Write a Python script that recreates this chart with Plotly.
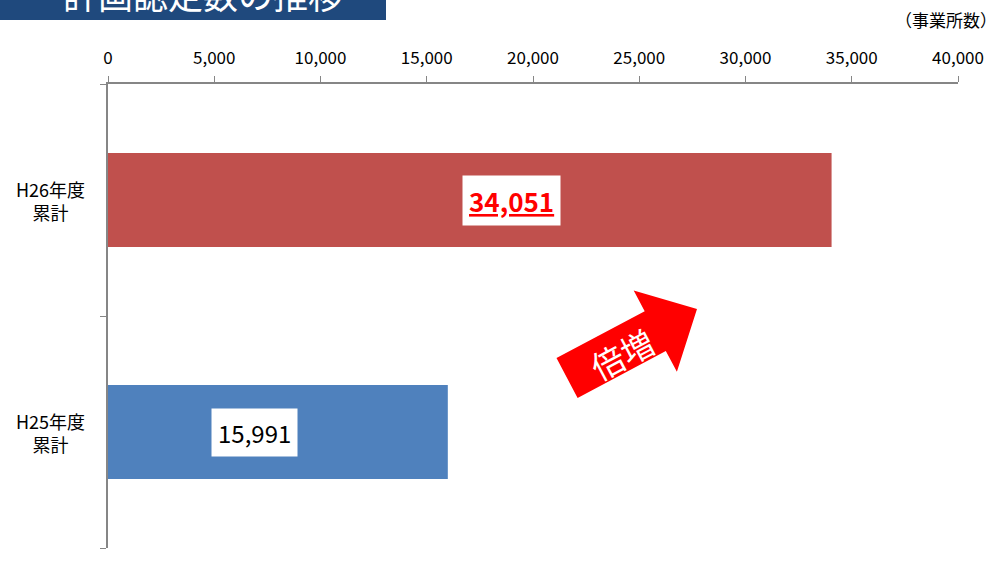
import plotly.graph_objects as go

categories = ["H25年度<br>累計", "H26年度<br>累計"]
values = [15991, 34051]
bar_colors = ["#4F81BD", "#C0504D"]
x_ticks = [0, 5000, 10000, 15000, 20000, 25000, 30000, 35000, 40000]
title_text = "計画認定数の推移"
unit_text = "（事業所数）"
arrow_text = "倍増"

FONT = "Noto Sans CJK JP"
W, H = 1001, 578
L, R, T, B = 108, 43, 84, 30
PW, PH = W - L - R, H - T - B

def px(x):
    return (x - L) / PW

def py(y):
    return (H - B - y) / PH

fig = go.Figure()
fig.add_trace(go.Bar(
    y=categories, x=values, orientation="h",
    marker=dict(color=bar_colors, line=dict(width=0)),
    hoverinfo="skip", showlegend=False,
))

axis_gray = "#868686"
fig.update_layout(
    width=W, height=H,
    margin=dict(l=L, r=R, t=T, b=B),
    paper_bgcolor="white", plot_bgcolor="white",
    bargap=0.595,
    font=dict(family=FONT, size=17, color="black"),
    xaxis=dict(
        side="top", range=[0, 40000], tickvals=x_ticks,
        ticktext=[f"{v:,}" for v in x_ticks],
        ticks="outside", ticklen=6, tickcolor=axis_gray,
        showline=True, linecolor=axis_gray, linewidth=2,
        showgrid=False, zeroline=False,
        tickfont=dict(family=FONT, size=17, color="black"),
        ticklabelstandoff=5,
    ),
    yaxis=dict(
        categoryorder="array", categoryarray=categories,
        showticklabels=False, ticks="outside", ticklen=6,
        tickcolor=axis_gray, tickson="boundaries",
        showline=True, linecolor=axis_gray, linewidth=2,
        showgrid=False, zeroline=False,
    ),
)

anns = []
# category labels, centered
for c in categories:
    anns.append(dict(x=px(50), xref="paper", y=c, yref="y", text=c,
                     showarrow=False, xanchor="center", yanchor="middle",
                     align="center", font=dict(family=FONT, size=18, color="black")))

# value labels
anns.append(dict(x=19000, y=categories[1], xref="x", yref="y",
                 text=f"<b><u>{values[1]:,}</u></b>", showarrow=False,
                 bgcolor="white", borderpad=6,
                 font=dict(family=FONT, size=26, color="#FF0000")))
anns.append(dict(x=6900, y=categories[0], xref="x", yref="y",
                 text=f"{values[0]:,}", showarrow=False,
                 bgcolor="white", borderpad=6,
                 font=dict(family=FONT, size=24, color="black")))

# unit label
anns.append(dict(x=px(999), y=py(20), xref="paper", yref="paper",
                 text=unit_text, showarrow=False, xanchor="right", yanchor="middle",
                 font=dict(family=FONT, size=17, color="black")))

# title (cut off at top)
anns.append(dict(x=px(203), y=py(-7), xref="paper", yref="paper",
                 text=title_text, showarrow=False,
                 xanchor="center", yanchor="middle",
                 font=dict(family=FONT, size=35, color="white")))

# arrow text
anns.append(dict(x=px(622), y=py(354), xref="paper", yref="paper",
                 text=arrow_text, showarrow=False, textangle=-28,
                 xanchor="center", yanchor="middle",
                 font=dict(family=FONT, size=33, color="white")))

fig.update_layout(annotations=anns)

# shapes: title box and arrow
pts = [(556.5, 358.1), (644.7, 311.2), (633.7, 290.5), (697, 309),
       (676.9, 371.7), (665.8, 351.0), (577.6, 397.9)]
path = "M " + " L ".join(f"{px(x):.5f},{py(y):.5f}" for x, y in pts) + " Z"
fig.add_shape(type="path", path=path, xref="paper", yref="paper",
              fillcolor="#FF0000", line=dict(width=0), layer="above")
fig.add_shape(type="rect", x0=px(-5), x1=px(386), y0=py(20), y1=py(-30),
              xref="paper", yref="paper", fillcolor="#1F497D",
              line=dict(width=0), layer="below")

fig.write_html("out.html", config={"displayModeBar": False},
               post_script="document.body.style.margin='0';document.body.style.padding='0';")
